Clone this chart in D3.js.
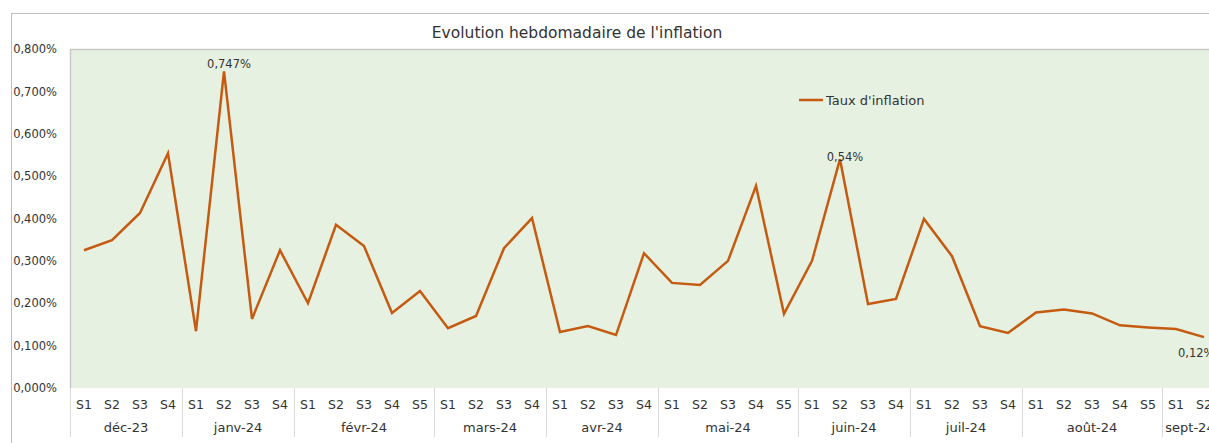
<!DOCTYPE html>
<html>
<head>
<meta charset="utf-8">
<script src="https://cdn.jsdelivr.net/npm/d3@7"></script>
<style>
  body { margin: 0; background: #fff; }
  svg text { font-family: "DejaVu Sans", Verdana, sans-serif; fill: #333; }
</style>
</head>
<body>
<div class="chart"></div>
<script>
// Data
var months = ["déc-23", "janv-24", "févr-24", "mars-24", "avr-24", "mai-24", "juin-24", "juil-24", "août-24", "sept-24"];
var weeksPerMonth = [4, 4, 5, 4, 4, 5, 4, 4, 5, 2];
var inflation = [
  0.325, 0.349, 0.413, 0.554,
  0.134, 0.747, 0.163, 0.325,
  0.200, 0.385, 0.335, 0.177, 0.229,
  0.141, 0.170, 0.330, 0.401,
  0.132, 0.146, 0.125, 0.318,
  0.248, 0.243, 0.300, 0.477, 0.175,
  0.300, 0.540, 0.198, 0.210,
  0.399, 0.311, 0.146, 0.130,
  0.178, 0.185, 0.176, 0.148, 0.143,
  0.139, 0.120
];
var yTicks = [0, 0.1, 0.2, 0.3, 0.4, 0.5, 0.6, 0.7, 0.8];
// labelled points: index -> text
var pointLabels = [
  { i: 5, text: "0,747%", pos: "above" },
  { i: 27, text: "0,54%", pos: "on" },
  { i: 40, text: "0,12%", pos: "below" }
];

// build week list
var weeks = [];
months.forEach(function(m, mi) {
  for (var w = 1; w <= weeksPerMonth[mi]; w++) {
    weeks.push({ month: m, label: "S" + w, idx: weeks.length });
  }
});

var svgWidth = 1209, svgHeight = 443;
var plot = { left: 70, top: 49, bottom: 388 };
var step = 28;
var plotRight = plot.left + step * weeks.length;

var svg = d3.select(".chart").append("svg")
  .attr("width", svgWidth)
  .attr("height", svgHeight);

// outer chart frame
svg.append("rect")
  .attr("x", 11.5).attr("y", 13.5)
  .attr("width", svgWidth + 10).attr("height", svgHeight + 10)
  .attr("fill", "#fff")
  .attr("stroke", "#bdbdbd");

var x = d3.scaleBand()
  .domain(weeks.map(function(d) { return d.idx; }))
  .range([plot.left, plotRight])
  .paddingInner(0).paddingOuter(0);

var y = d3.scaleLinear().domain([0, 0.8]).range([plot.bottom, plot.top]);

// plot area
svg.append("rect")
  .attr("x", plot.left).attr("y", plot.top)
  .attr("width", plotRight - plot.left).attr("height", plot.bottom - plot.top)
  .attr("fill", "#e7f1e1");
svg.append("path")
  .attr("d", "M" + (plot.left + 0.5) + "," + plot.bottom + "V" + (plot.top + 0.5) + "H" + plotRight)
  .attr("fill", "none").attr("stroke", "#c9c9c9").attr("stroke-width", 1.5);

// title
svg.append("text")
  .attr("x", 577).attr("y", 38)
  .attr("text-anchor", "middle")
  .style("font-size", "15.5px")
  .text("Evolution hebdomadaire de l'inflation");

// y axis labels
var leftAxis = d3.axisLeft(y).tickValues(yTicks).tickSize(0)
  .tickFormat(function(d) { return d3.format(".3f")(d).replace(".", ",") + "%"; });
var yAxis = svg.append("g").attr("transform", "translate(57,0)").call(leftAxis);
yAxis.select(".domain").remove();
yAxis.selectAll("text").attr("x", 0).style("font-size", "11.5px").attr("fill", "#333");

// x axis: week labels
svg.append("g").selectAll("text.week")
  .data(weeks).enter().append("text")
  .attr("class", "week")
  .attr("x", function(d) { return x(d.idx) + x.bandwidth() / 2; })
  .attr("y", 409)
  .attr("text-anchor", "middle")
  .style("font-size", "12.5px")
  .text(function(d) { return d.label; });

// month groups
var groups = [];
var start = 0;
months.forEach(function(m, mi) {
  groups.push({ month: m, start: start, end: start + weeksPerMonth[mi] });
  start += weeksPerMonth[mi];
});
svg.append("g").selectAll("line")
  .data(groups).enter().append("line")
  .attr("x1", function(d) { return x(d.start) + 0.5; })
  .attr("x2", function(d) { return x(d.start) + 0.5; })
  .attr("y1", plot.bottom).attr("y2", 437)
  .attr("stroke", "#d9d9d9");
svg.append("g").selectAll("text")
  .data(groups).enter().append("text")
  .attr("x", function(d) { return (x(d.start) + d.end * step + plot.left) / 2; })
  .attr("y", 432)
  .attr("text-anchor", "middle")
  .style("font-size", "13px")
  .text(function(d) { return d.month; });

// line
var line = d3.line()
  .x(function(d, i) { return x(i) + x.bandwidth() / 2; })
  .y(function(d) { return y(d); });
svg.append("path")
  .datum(inflation)
  .attr("d", line)
  .attr("fill", "none")
  .attr("stroke", "#c55a11")
  .attr("stroke-width", 2.5)
  .attr("stroke-linejoin", "miter");

// data labels
svg.append("g").selectAll("text")
  .data(pointLabels).enter().append("text")
  .attr("x", function(d) {
    var px = x(d.i) + x.bandwidth() / 2;
    return d.pos === "below" ? px - 26 : px + 5;
  })
  .attr("y", function(d) {
    var py = y(inflation[d.i]);
    if (d.pos === "above") return py - 3;
    if (d.pos === "below") return py + 20;
    return py + 2;
  })
  .attr("text-anchor", function(d) { return d.pos === "below" ? "start" : "middle"; })
  .style("font-size", "11.5px")
  .text(function(d) { return d.text; });

// legend
svg.append("line")
  .attr("x1", 799).attr("x2", 823).attr("y1", 100).attr("y2", 100)
  .attr("stroke", "#c55a11").attr("stroke-width", 2.5);
svg.append("text")
  .attr("x", 826).attr("y", 104.5)
  .style("font-size", "13px")
  .text("Taux d'inflation");
</script>
</body>
</html>
